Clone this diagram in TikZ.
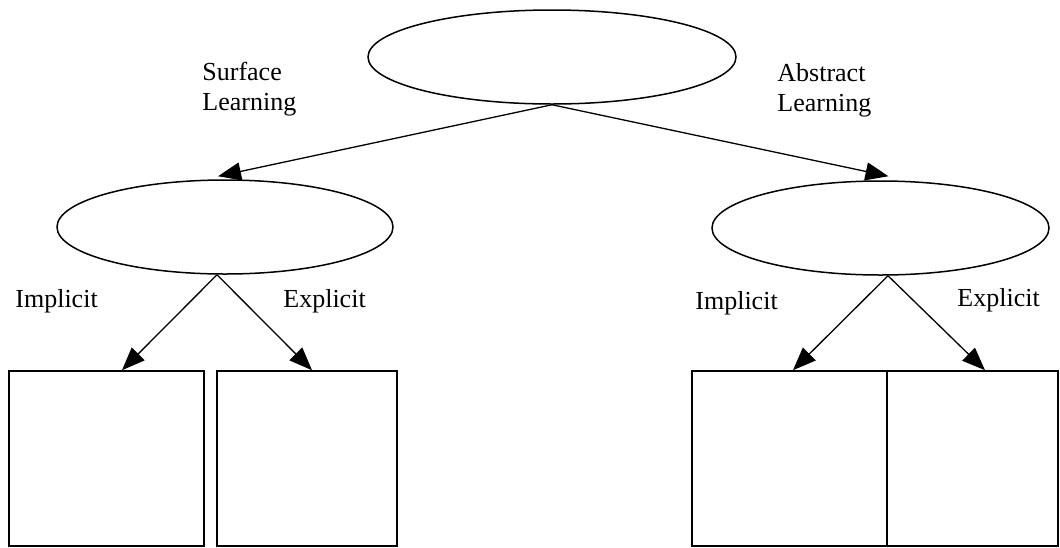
\documentclass[tikz,border=0pt]{standalone}
\usepackage{fontspec}
\setmainfont{Liberation Serif}
\usetikzlibrary{shapes.geometric,arrows.meta}

\begin{document}
\begin{tikzpicture}[x=0.5pt,y=-0.5pt,
  every node/.style={font=\fontsize{13}{15}\selectfont},
  oval/.style={draw,ellipse,line width=0.75pt,inner sep=0pt,minimum height=47pt},
  card/.style={draw,rectangle,line width=0.8pt,inner sep=0pt,minimum height=87.5pt},
  tag/.style={inner sep=0pt,align=left},
  link/.style={-{Triangle[length=11.5pt,width=9pt]},line width=0.65pt}]
\useasboundingbox (0,0) rectangle (1060,547);
% ellipses
\node[oval,minimum width=184pt] (root) at (552,57) {};
\node[oval,minimum width=168pt] (surf) at (225,227) {};
\node[oval,minimum width=168.5pt] (abst) at (880.5,228) {};
% boxes
\node[card,minimum width=97.5pt] (surfimp) at (106.5,458.5) {};
\node[card,minimum width=90pt] (surfexp) at (307,458.5) {};
\node[card,minimum width=97.5pt] (abstimp) at (789.5,458.5) {};
\node[card,minimum width=85.5pt] (abstexp) at (972.5,458.5) {};
% labels
\node[tag,anchor=north west] (lsurf) at (202,62) {Surface\\Learning};
\node[tag,anchor=north west] (labst) at (777,63) {Abstract\\Learning};
\node[tag,anchor=base west] (limp1) at (15,307) {Implicit};
\node[tag,anchor=base west] (lexp1) at (283,307) {Explicit};
\node[tag,anchor=base west] (limp2) at (695,309) {Implicit};
\node[tag,anchor=base west] (lexp2) at (957,306) {Explicit};
% arrows
\draw[link] (root.south) -- ([xshift=-3.5pt,yshift=1.5pt]surf.north);
\draw[link] (root.south) -- ([xshift=4pt,yshift=2pt]abst.north);
\draw[link] ([xshift=-4pt]surf.south) -- ([xshift=7.75pt]surfimp.north);
\draw[link] ([xshift=-4pt]surf.south) -- ([xshift=2.5pt]surfexp.north);
\draw[link] ([xshift=3.75pt]abst.south) -- ([xshift=1.75pt]abstimp.north);
\draw[link] ([xshift=3.75pt]abst.south) -- ([xshift=6.25pt]abstexp.north);
\end{tikzpicture}
\end{document}
